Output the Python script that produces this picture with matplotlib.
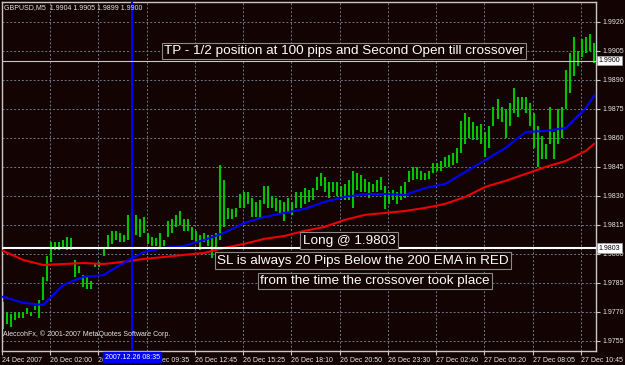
import matplotlib
matplotlib.use("Agg")
import matplotlib.pyplot as plt
from matplotlib import font_manager as fm

_cond = [f for f in fm.fontManager.ttflist
         if f.name in ("Liberation Sans Narrow", "DejaVu Sans Condensed")
         or (f.name == "DejaVu Sans" and str(f.stretch) in ("condensed", "semi-condensed"))]
plt.rcParams["font.family"] = ["Liberation Sans", "DejaVu Sans"]

# ---------------- data ----------------
symbol_header = "GBPUSD,M5  1.9904 1.9905 1.9899 1.9900"
copyright_txt = "AleccohFx, \u00a9 2001-2007 MetaQuotes Software Corp."

bar_high = [1.9775, 1.9770, 1.9769, 1.9770, 1.9770, 1.9770, 1.9772, 1.9770, 1.9773, 1.9776,
            1.9788, 1.9799, 1.9806, 1.9806, 1.9806, 1.9807, 1.9809, 1.9808, 1.9797, 1.9794,
            1.9789, 1.9788, 1.9786, 1.9795, 1.9796, 1.9803, 1.9810, 1.9812, 1.9812, 1.9811,
            1.9810, 1.9820, 1.9819, 1.9820, 1.9818, 1.9819, 1.9811, 1.9809, 1.9808, 1.9811,
            1.9807, 1.9817, 1.9818, 1.9820, 1.9822, 1.9818, 1.9818, 1.9814, 1.9812, 1.9810,
            1.9811, 1.9810, 1.9810, 1.9811, 1.9846, 1.9838, 1.9824, 1.9823, 1.9824, 1.9831,
            1.9832, 1.9832, 1.9829, 1.9827, 1.9828, 1.9835, 1.9835, 1.9830, 1.9829, 1.9828,
            1.9827, 1.9829, 1.9827, 1.9832, 1.9832, 1.9834, 1.9833, 1.9834, 1.9840, 1.9842,
            1.9840, 1.9837, 1.9837, 1.9837, 1.9835, 1.9836, 1.9838, 1.9843, 1.9842, 1.9841,
            1.9839, 1.9837, 1.9836, 1.9838, 1.9840, 1.9835, 1.9832, 1.9833, 1.9832, 1.9835,
            1.9837, 1.9843, 1.9845, 1.9845, 1.9843, 1.9842, 1.9843, 1.9847, 1.9847, 1.9848,
            1.9850, 1.9851, 1.9852, 1.9855, 1.9869, 1.9873, 1.9871, 1.9868, 1.9866, 1.9867,
            1.9863, 1.9866, 1.9876, 1.9880, 1.9876, 1.9875, 1.9878, 1.9886, 1.9881, 1.9881,
            1.9881, 1.9878, 1.9873, 1.9866, 1.9861, 1.9857, 1.9876, 1.9863, 1.9875, 1.9876,
            1.9895, 1.9904, 1.9912, 1.9905, 1.9911, 1.9912, 1.9914, 1.9909]
bar_low = [1.9761, 1.9764, 1.9762, 1.9766, 1.9767, 1.9767, 1.9769, 1.9768, 1.9771, 1.9767,
           1.9776, 1.9786, 1.9796, 1.9802, 1.9802, 1.9803, 1.9802, 1.9802, 1.9788, 1.9790,
           1.9783, 1.9782, 1.9782, 1.9793, 1.9793, 1.9799, 1.9803, 1.9805, 1.9807, 1.9806,
           1.9806, 1.9807, 1.9811, 1.9810, 1.9809, 1.9811, 1.9805, 1.9804, 1.9804, 1.9803,
           1.9804, 1.9809, 1.9811, 1.9814, 1.9815, 1.9812, 1.9812, 1.9807, 1.9806, 1.9802,
           1.9806, 1.9804, 1.9798, 1.9802, 1.9807, 1.9814, 1.9818, 1.9818, 1.9819, 1.9824,
           1.9824, 1.9826, 1.9819, 1.9819, 1.9818, 1.9826, 1.9824, 1.9824, 1.9822, 1.9821,
           1.9817, 1.9821, 1.9820, 1.9824, 1.9824, 1.9826, 1.9827, 1.9828, 1.9833, 1.9835,
           1.9832, 1.9829, 1.9832, 1.9830, 1.9828, 1.9828, 1.9828, 1.9824, 1.9833, 1.9832,
           1.9832, 1.9829, 1.9832, 1.9832, 1.9833, 1.9823, 1.9826, 1.9828, 1.9826, 1.9828,
           1.9829, 1.9837, 1.9838, 1.9839, 1.9838, 1.9838, 1.9839, 1.9842, 1.9843, 1.9843,
           1.9845, 1.9845, 1.9846, 1.9847, 1.9852, 1.9857, 1.9860, 1.9859, 1.9859, 1.9857,
           1.9850, 1.9855, 1.9866, 1.9870, 1.9868, 1.9860, 1.9866, 1.9873, 1.9871, 1.9875,
           1.9873, 1.9866, 1.9855, 1.9845, 1.9849, 1.9849, 1.9857, 1.9849, 1.9857, 1.9860,
           1.9875, 1.9883, 1.9892, 1.9897, 1.9902, 1.9904, 1.9905, 1.9899]

ema_bar = [0, 5, 10, 15, 20, 25, 30, 35, 40, 45, 50, 55, 60, 65, 70, 75, 80, 85, 90, 95,
           100, 105, 110, 115, 120, 125, 130, 135, 140, 145, 147]
ema_fast = [1.97778, 1.97747, 1.97736, 1.97840, 1.97881, 1.97891, 1.97953, 1.98010, 1.98031, 1.98041,
            1.98072, 1.98109, 1.98160, 1.98191, 1.98212, 1.98233, 1.98269, 1.98295, 1.98310, 1.98310,
            1.98305, 1.98341, 1.98362, 1.98424, 1.98486, 1.98548, 1.98631, 1.98636, 1.98652, 1.98755,
            1.98817]
ema_200 = [1.98016, 1.97969, 1.97943, 1.97948, 1.97953, 1.97948, 1.97959, 1.97974, 1.97984, 1.97995,
           1.98005, 1.98031, 1.98052, 1.98078, 1.98093, 1.98119, 1.98140, 1.98176, 1.98202, 1.98212,
           1.98222, 1.98238, 1.98259, 1.98295, 1.98347, 1.98378, 1.98414, 1.98450, 1.98481, 1.98533,
           1.98569]

price_levels = [1.9920, 1.9905, 1.9890, 1.9875, 1.9860, 1.9845, 1.9830, 1.9815, 1.9800,
                1.9785, 1.9770, 1.9755]
time_ticks = [-0.25, 11.75, 23.75, 35.75, 47.75, 59.75, 71.75, 83.75, 95.75, 107.75,
              119.75, 131.75, 143.75]
time_labels = ["24 Dec 2007", "26 Dec 02:00", "26 Dec 04:40", "26 Dec 09:35", "26 Dec 12:45",
               "26 Dec 15:25", "26 Dec 18:10", "26 Dec 20:50", "26 Dec 23:30", "27 Dec 02:40",
               "27 Dec 05:20", "27 Dec 08:05", "27 Dec 10:45"]

crossover_bar = 32.1
crossover_label = "2007.12.26 08:35"
tp_level = 1.9900
entry_level = 1.9803
y_range = (1.97498, 1.99303)
x_range = (-0.25, 147.5)

# ---------------- style ----------------
BG = "#130303"
GRID = "#6a7b8c"
FRAME = "#c8c8c8"
TXT = "#e6e6e6"
GREEN = "#00c400"
SMALL = 5.0

fig = plt.figure(figsize=(6.25, 3.65), dpi=100, facecolor=BG)
ax = fig.add_axes([2 / 625, 14 / 365, 594 / 625, 349 / 365], facecolor=BG)
ax.set_xlim(*x_range)
ax.set_ylim(*y_range)

for s in ax.spines.values():
    s.set_color(FRAME)
    s.set_linewidth(1.0)

ax.set_yticks(price_levels)
ax.set_yticklabels([f"{p:.4f}" for p in price_levels])
ax.yaxis.tick_right()
ax.tick_params(axis="y", colors=FRAME, labelcolor=TXT, labelsize=SMALL, length=3, width=0.8, pad=2)
ax.set_xticks(time_ticks)
ax.set_xticklabels(time_labels)
ax.tick_params(axis="x", colors=FRAME, labelcolor=TXT, labelsize=SMALL, length=3, width=0.8, pad=1.5)
for lbl in ax.get_xticklabels():
    lbl.set_ha("left")

ax.grid(True, color=GRID, linestyle=(0, (2, 2)), linewidth=0.7, zorder=0)
ax.set_axisbelow(True)

bars_x = list(range(len(bar_high)))
ax.vlines(bars_x, bar_low, bar_high, colors=GREEN, linewidth=1.5, zorder=2)

ax.plot(ema_bar, ema_200, color="#ee0000", linewidth=1.5, zorder=3)
ax.plot(ema_bar, ema_fast, color="#0000ff", linewidth=1.5, zorder=3)

ax.axvline(crossover_bar, color="#0000ff", linewidth=1.5, zorder=4)
ax.axhline(tp_level, color="#c8c8c8", linewidth=0.8, zorder=4)
ax.axhline(entry_level, color="#ffffff", linewidth=1.5, zorder=4)

# header / footer
ax.text(0.004, 0.993, symbol_header, transform=ax.transAxes, ha="left", va="top",
        fontsize=SMALL, color=TXT, zorder=6)
ax.text(0.002, 0.037, copyright_txt, transform=ax.transAxes, ha="left", va="bottom",
        fontsize=SMALL, color=TXT, zorder=6)

# annotation boxes
box = dict(boxstyle="square,pad=0.18", fc=BG, ec="#8a8a8a", lw=0.8)
notes = [
    ("TP - 1/2 position at 100 pips and Second Open till crossover", 0.5758, 0.8596),
    ("Long @ 1.9803", 0.5842, 0.3166),
    ("SL is always 20 Pips Below the 200 EMA in RED", 0.6078, 0.2593),
    ("from the time the crossover took place", 0.628, 0.2006),
]
for txt, xa, ya in notes:
    ax.text(xa, ya, txt, transform=ax.transAxes, ha="center", va="center",
            fontsize=9.7, color="white", bbox=box, zorder=7)

# price tags on right axis
tag = dict(boxstyle="square,pad=0.2", fc="white", ec="#a0a0a0", lw=0.6)
for lvl in (tp_level, entry_level):
    ax.text(1.0045, lvl, f"{lvl:.4f}", transform=ax.get_yaxis_transform(), ha="left",
            va="center", fontsize=SMALL, color="black", bbox=tag, zorder=8, clip_on=False)

# crossover time tag on the time axis
ax.text(crossover_bar, -0.008, crossover_label, transform=ax.get_xaxis_transform(),
        ha="center", va="top", fontsize=SMALL, color="white",
        bbox=dict(boxstyle="square,pad=0.2", fc="#0000ff", ec="#0000ff"), zorder=8, clip_on=False)

fig.savefig("out.png", dpi=100, facecolor=BG)
